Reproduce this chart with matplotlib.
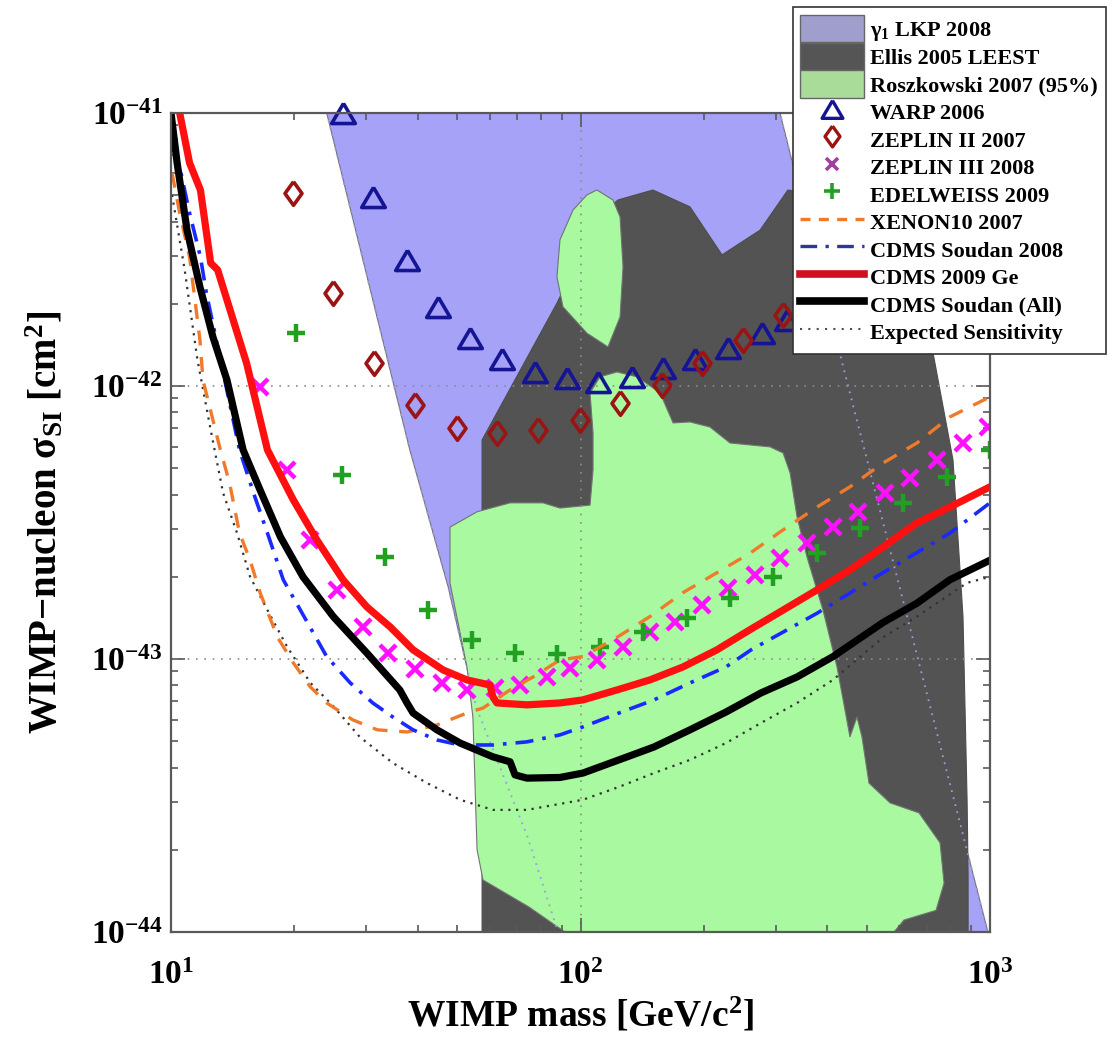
import numpy as np
import matplotlib
matplotlib.use('Agg')
import matplotlib.pyplot as plt
import matplotlib.ticker as ticker
from matplotlib.patches import Patch
from matplotlib.lines import Line2D

plt.rcParams['font.family'] = ['Liberation Serif', 'DejaVu Serif']
plt.rcParams['font.weight'] = 'bold'
plt.rcParams['axes.labelweight'] = 'bold'
plt.rcParams['mathtext.fontset'] = 'custom'
plt.rcParams['mathtext.rm'] = 'Liberation Serif:bold'
plt.rcParams['mathtext.bf'] = 'Liberation Serif:bold'
plt.rcParams['mathtext.it'] = 'Liberation Serif:bold'
plt.rcParams['mathtext.default'] = 'bf'

# --- theory regions (mass in GeV, cross section in cm^2) ---
lkp_m = [24.0, 38.3, 47.5, 55.6, 74.0, 88.1, 988, 430, 307]
lkp_s = [1e-41, 5.83e-43, 1.84e-43, 6.67e-44, 2.26e-44, 1e-44, 1e-44, 1.31e-42, 1e-41]

ellis_m = [57.5, 57.5, 87.6, 111.6, 123.5, 150.3, 185, 221.6, 274.4, 321, 481.5,
           726, 812, 859, 879, 884, 884]
ellis_s = [1e-44, 6.34e-43, 2.01e-42, 4.23e-42, 4.80e-42, 5.22e-42, 4.53e-42, 3.02e-42,
           3.72e-42, 5.22e-42, 4.80e-42, 1.32e-42, 5.36e-43, 1.43e-43, 3.05e-44, 1.62e-44, 1e-44]

rosz_m = [48.0, 55.9, 67.3, 81.0, 89.1, 105.5, 107.3, 107.3, 105.5, 111.6, 122.8, 137.4,
          156.4, 168.3, 185.1, 207.1, 231.8, 259.4, 290.3, 312.4, 324.9, 337.9, 357.4,
          391.0, 423.0, 455.0, 473.3, 486.8, 506.3, 570.0, 670.7, 755.1, 772.3, 738.3,
          616.6, 583.0, 91.6, 74.8, 57.8, 55.9, 54.6, 52.8, 48.0]
rosz_s = [3.04e-43, 3.46e-43, 3.73e-43, 3.73e-43, 3.57e-43, 3.66e-43, 4.92e-43, 6.73e-43,
          9.43e-43, 1.08e-42, 1.125e-42, 1.08e-42, 9.43e-43, 7.32e-43, 7.38e-43, 7.07e-43,
          6.18e-43, 6.08e-43, 5.98e-43, 5.68e-43, 4.80e-43, 3.31e-43, 2.36e-43, 1.51e-43,
          9.35e-44, 5.18e-44, 6.13e-44, 5.18e-44, 3.51e-44, 2.97e-44, 2.73e-44, 2.12e-44,
          1.51e-44, 1.20e-44, 1.106e-44, 1e-44, 1e-44, 1.235e-44, 1.55e-44, 2.00e-44,
          6.13e-44, 9.35e-44, 1.90e-43]

rosz_island_m = [109.7, 120.0, 124.9, 127.0, 124.9, 116.7, 103.7, 90.6, 87.6, 89.1, 95.9, 103.7]
rosz_island_s = [5.22e-42, 4.80e-42, 4.16e-42, 2.73e-42, 1.79e-42, 1.39e-42, 1.56e-42,
                 1.95e-42, 2.51e-42, 3.43e-42, 4.41e-42, 5.01e-42]

# --- experimental data points ---
warp_m = [26.3, 31.1, 37.7, 44.9, 53.7, 64.3, 77.4, 92.7, 110.3, 133.6, 159.0, 190.4,
          229.2, 277.5, 319.4]
warp_s = [1.0e-41, 4.92e-42, 2.89e-42, 1.95e-42, 1.50e-42, 1.25e-42, 1.125e-42, 1.07e-42,
          1.03e-42, 1.08e-42, 1.16e-42, 1.25e-42, 1.38e-42, 1.56e-42, 1.75e-42]

zep2_m = [19.9, 24.9, 31.3, 39.4, 49.9, 62.5, 78.7, 99.7, 124.9, 158.1, 198.0, 249.4, 312.4]
zep2_s = [5.09e-42, 2.19e-42, 1.21e-42, 8.52e-43, 7.02e-43, 6.73e-43, 6.90e-43, 7.51e-43,
          8.66e-43, 1.01e-42, 1.21e-42, 1.47e-42, 1.82e-42]

zep3_m = [16.5, 19.2, 21.9, 25.4, 29.4, 33.9, 39.4, 45.9, 52.8, 61.8, 71.2, 82.8, 94.3,
          109.7, 127.0, 147.8, 170.1, 198.0, 229.2, 266.8, 307.0, 357.4, 413.6, 476.0,
          554.2, 637.7, 742.4, 859.3, 988.8]
zep3_s = [9.92e-43, 4.92e-43, 2.73e-43, 1.79e-43, 1.31e-43, 1.05e-43, 9.18e-44, 8.17e-44,
          7.70e-44, 7.83e-44, 8.03e-44, 8.59e-44, 9.27e-44, 9.92e-44, 1.11e-43, 1.26e-43,
          1.37e-43, 1.58e-43, 1.82e-43, 2.03e-43, 2.34e-43, 2.66e-43, 3.04e-43, 3.46e-43,
          4.06e-43, 4.60e-43, 5.36e-43, 6.18e-43, 7.08e-43]

edel_m = [20.2, 26.2, 33.3, 42.4, 54.3, 69.2, 87.6, 111.6, 142.1, 182.0, 231.8, 295.1,
          378.0, 481.5, 613.2, 785.2, 1000]
edel_s = [1.56e-42, 4.72e-43, 2.36e-43, 1.51e-43, 1.17e-43, 1.05e-43, 1.04e-43, 1.11e-43,
          1.26e-43, 1.41e-43, 1.67e-43, 2.00e-43, 2.44e-43, 3.02e-43, 3.73e-43, 4.64e-43,
          5.83e-43]

# --- limit curves ---
xenon_m = [10.06, 10.5, 11.1, 11.77, 11.97, 13.2, 13.9, 14.7, 15.6, 16.5, 18.2, 19.9, 21.9,
           24.0, 27.8, 31.9, 37.7, 44.6, 52.8, 57.8, 67.3, 76.6, 89.1, 101.4, 122.8, 147.8,
           178, 215.4, 259.4, 312.4, 378, 455, 548, 663, 798, 1000]
xenon_s = [6.03e-42, 4.30e-42, 2.97e-42, 1.47e-42, 1.05e-42, 5.83e-43, 4.41e-43, 2.89e-43,
           2.30e-43, 1.75e-43, 1.20e-43, 9.67e-44, 7.89e-44, 6.90e-44, 5.98e-44, 5.50e-44,
           5.40e-44, 5.73e-44, 6.34e-44, 6.61e-44, 7.70e-44, 8.59e-44, 9.92e-44, 1.02e-43,
           1.20e-43, 1.43e-43, 1.75e-43, 2.07e-43, 2.44e-43, 2.97e-43, 3.60e-43, 4.27e-43,
           5.22e-43, 6.18e-43, 7.70e-43, 9.12e-43]

soudan08_m = [10.1, 10.5, 11.1, 11.8, 12.2, 14.7, 15.9, 17.2, 18.8, 20.7, 24.0, 27.4, 31.1,
              34.8, 39.0, 44.6, 50.8, 61.1, 74.0, 89.1, 101.4, 124.2, 151.2, 185.1, 226.6,
              261, 378, 548, 798, 1000]
soudan08_s = [7.50e-42, 6.34e-42, 4.30e-42, 2.97e-42, 2.19e-42, 5.83e-43, 4.06e-43, 2.89e-43,
              1.95e-43, 1.51e-43, 1.02e-43, 8.17e-44, 6.90e-44, 6.13e-44, 5.50e-44, 5.05e-44,
              4.84e-44, 4.84e-44, 4.97e-44, 5.27e-44, 5.64e-44, 6.34e-44, 7.08e-44, 8.17e-44,
              9.35e-44, 1.08e-43, 1.47e-43, 2.07e-43, 2.89e-43, 3.73e-43]

ge09_m = [10.5, 11.1, 11.8, 12.5, 13.0, 15.3, 17.2, 19.9, 22.7, 26.3, 30.1, 34.3, 39.0, 46.2,
          52.8, 60.1, 61.1, 62.5, 74.0, 89.1, 101.4, 122.8, 147.8, 178.0, 215.4, 259.4,
          312.4, 378, 455, 548, 663, 798, 1000]
ge09_s = [1e-41, 6.56e-42, 5.22e-42, 2.82e-42, 2.66e-42, 1.21e-42, 5.83e-43, 3.82e-43,
          2.73e-43, 1.95e-43, 1.55e-43, 1.31e-43, 1.08e-43, 9.11e-44, 8.38e-44, 8.03e-44,
          7.26e-44, 6.90e-44, 6.79e-44, 6.90e-44, 7.08e-44, 7.70e-44, 8.38e-44, 9.35e-44,
          1.08e-43, 1.28e-43, 1.51e-43, 1.79e-43, 2.12e-43, 2.57e-43, 3.15e-43, 3.60e-43,
          4.27e-43]

all_m = [10.0, 10.35, 10.94, 11.77, 12.66, 13.70, 15.0, 16.5, 18.5, 21.0, 24.9, 30.1, 36.2,
         37.7, 39.0, 44.6, 50.8, 61.1, 67.3, 69.2, 74.0, 89.1, 101.4, 124.2, 151.2, 185.1,
         226.6, 276, 337.9, 413.6, 548, 663, 798, 1000]
all_s = [1e-41, 6.56e-42, 3.73e-42, 2.30e-42, 1.51e-42, 1.05e-42, 5.83e-43, 4.16e-43,
         2.80e-43, 2.00e-43, 1.43e-43, 1.05e-43, 7.70e-44, 6.90e-44, 6.34e-44, 5.50e-44,
         4.92e-44, 4.38e-44, 4.20e-44, 3.76e-44, 3.66e-44, 3.68e-44, 3.82e-44, 4.27e-44,
         4.76e-44, 5.50e-44, 6.39e-44, 7.51e-44, 8.59e-44, 1.02e-43, 1.36e-43, 1.60e-43,
         1.95e-43, 2.30e-43]

expected_m = [10.06, 10.8, 11.6, 12.5, 13.4, 14.5, 15.6, 17.2, 19.2, 21.9, 24.9, 28.9, 34.8,
              42.2, 50.8, 61.1, 74.0, 101.4, 124.2, 151.2, 185.1, 226.6, 276, 338, 413.6,
              548, 663, 879, 1000]
expected_s = [5.01e-42, 2.66e-42, 1.25e-42, 6.90e-43, 4.06e-43, 2.89e-43, 2.00e-43, 1.51e-43,
              1.11e-43, 8.17e-44, 6.72e-44, 5.18e-44, 4.16e-44, 3.51e-44, 3.05e-44, 2.80e-44,
              2.80e-44, 3.05e-44, 3.40e-44, 3.82e-44, 4.27e-44, 4.92e-44, 5.83e-44, 6.90e-44,
              8.38e-44, 1.20e-43, 1.43e-43, 1.90e-43, 2.00e-43]

# colours
c_lkp = '#a5a2f7'
c_ellis = '#535353'
c_rosz = '#a9f9a1'
c_warp = '#141494'
c_zep2 = '#9a1414'
c_zep3 = '#ff10ff'
c_edel = '#22a022'
c_xenon = '#f07a2a'
c_s08 = '#1a2aff'
c_ge = '#ff1010'

tri = [(0, 0.85), (-1, -0.85), (1, -0.85), (0, 0.85)]
dia = [(0, 1), (0.72, 0), (0, -1), (-0.72, 0), (0, 1)]

fig = plt.figure(figsize=(11.14, 10.37), dpi=100)
ax = fig.add_axes([0.1535, 0.1013, 0.7352, 0.7898])
ax.set_xscale('log')
ax.set_yscale('log')

# regions
ax.fill(lkp_m, lkp_s, facecolor=c_lkp, edgecolor='0.45', lw=0.8, zorder=1)
ax.fill(ellis_m, ellis_s, facecolor=c_ellis, edgecolor='0.3', lw=0.8, zorder=1.1)
ax.fill(rosz_m, rosz_s, facecolor=c_rosz, edgecolor='0.45', lw=0.8, zorder=1.2)
ax.fill(rosz_island_m, rosz_island_s, facecolor=c_rosz, edgecolor='0.45', lw=0.8, zorder=1.2)
# lilac edges seen through other regions
ax.plot(lkp_m[:6], lkp_s[:6], color='#9c9ce0', ls=(0, (1, 3)), lw=1.3, zorder=1.3)
ax.plot(lkp_m[6:], lkp_s[6:], color='#9c9ce0', ls=(0, (1, 3)), lw=1.3, zorder=1.3)

# grid
ax.axvline(100, color='0.55', ls=(0, (1, 4)), lw=1.2, zorder=1.4)
for v in [1e-42, 1e-43]:
    ax.axhline(v, color='0.55', ls=(0, (1, 4)), lw=1.2, zorder=1.4)

# markers
ax.plot(warp_m, warp_s, ls='none', marker=tri, ms=17, mfc='none', mec=c_warp, mew=2.6,
        zorder=3, clip_on=False)
ax.plot(zep2_m, zep2_s, ls='none', marker=dia, ms=17, mfc='none', mec=c_zep2, mew=2.6, zorder=3)
ax.plot(zep3_m, zep3_s, ls='none', marker='x', ms=11, mec=c_zep3, mew=3.2, zorder=3)
ax.plot(edel_m, edel_s, ls='none', marker='+', ms=13, mec=c_edel, mew=3.2, zorder=3)

# limit curves
ax.plot(expected_m, expected_s, color='0.2', ls=(0, (1, 2.5)), lw=1.6, zorder=4)
ax.plot(xenon_m, xenon_s, color=c_xenon, ls=(0, (4.5, 3.5)), lw=2.4, zorder=4)
ax.plot(soudan08_m, soudan08_s, color=c_s08, ls=(0, (5, 2.5, 1, 2.5)), lw=2.6, zorder=4)
ax.plot(ge09_m, ge09_s, color=c_ge, lw=5.2, zorder=5)
ax.plot(all_m, all_s, color='black', lw=5.2, zorder=5)

ax.set_xlim(10, 1000)
ax.set_ylim(1e-44, 1e-41)

# ticks: only inside the plotted decades
ax.xaxis.set_major_locator(ticker.FixedLocator([10, 100, 1000]))
ax.yaxis.set_major_locator(ticker.FixedLocator([1e-44, 1e-43, 1e-42, 1e-41]))
ax.xaxis.set_minor_locator(ticker.FixedLocator([k * d for d in (10, 100) for k in range(2, 10)]))
ax.yaxis.set_minor_locator(ticker.FixedLocator([k * d for d in (1e-44, 1e-43, 1e-42)
                                                for k in range(2, 10)]))
fmt = ticker.FuncFormatter(lambda v, p: r'$10^{%d}$' % round(np.log10(v)))
ax.xaxis.set_major_formatter(fmt)
ax.yaxis.set_major_formatter(fmt)
ax.xaxis.set_minor_formatter(ticker.NullFormatter())
ax.yaxis.set_minor_formatter(ticker.NullFormatter())
ax.tick_params(which='both', direction='in', top=True, right=True, colors='0.35',
               labelcolor='black', labelsize=24, width=1.2)
ax.tick_params(which='major', length=10)
ax.tick_params(axis='x', which='major', pad=20)
ax.tick_params(axis='y', which='major', pad=6)
ax.tick_params(which='minor', length=5)
for s in ax.spines.values():
    s.set_color('0.35')
    s.set_linewidth(1.6)
    s.set_zorder(6)

ax.set_xlabel(r'WIMP mass [GeV/c$^{2}$]', fontsize=27, labelpad=4)
ax.set_ylabel(r'WIMP$-$nucleon $\sigma_{SI}$ [cm$^{2}$]', fontsize=28, labelpad=18)

handles = [
    Patch(facecolor='#a09ecc', edgecolor='0.4', lw=1),
    Patch(facecolor='#555555', edgecolor='0.4', lw=1),
    Patch(facecolor='#a9dc98', edgecolor='0.4', lw=1),
    Line2D([], [], ls='none', marker=tri, ms=15, mfc='none', mec=c_warp, mew=2.4),
    Line2D([], [], ls='none', marker=dia, ms=15, mfc='none', mec=c_zep2, mew=2.4),
    Line2D([], [], ls='none', marker='x', ms=8, mec='#a040a0', mew=2.6),
    Line2D([], [], ls='none', marker='+', ms=11, mec=c_edel, mew=2.6),
    Line2D([], [], color=c_xenon, ls=(0, (3, 2.5)), lw=2.4),
    Line2D([], [], color='#2a3a9a', ls=(0, (5, 2.5, 1, 2.5)), lw=2.4),
    Line2D([], [], color='#d01020', lw=5.5),
    Line2D([], [], color='black', lw=5.5),
    Line2D([], [], color='0.3', ls=(0, (1, 3)), lw=1.5),
]
labels = [r'$\gamma_1$ LKP 2008', 'Ellis 2005 LEEST', 'Roszkowski 2007 (95%)', 'WARP 2006',
          'ZEPLIN II 2007', 'ZEPLIN III 2008', 'EDELWEISS 2009', 'XENON10 2007',
          'CDMS Soudan 2008', 'CDMS 2009 Ge', 'CDMS Soudan (All)', 'Expected Sensitivity']
leg = fig.legend(handles, labels, loc='upper right', bbox_to_anchor=(1106 / 1114, 1 - 7 / 1037),
                 bbox_transform=fig.transFigure, fontsize=16, frameon=True, fancybox=False,
                 framealpha=1, edgecolor='0.2', handlelength=2.85, handleheight=1.53,
                 handletextpad=0.3, labelspacing=0.0, borderpad=0.35, borderaxespad=0)
leg.get_frame().set_linewidth(1.2)
leg.set_zorder(10)

fig.savefig('out.png', dpi=100)
